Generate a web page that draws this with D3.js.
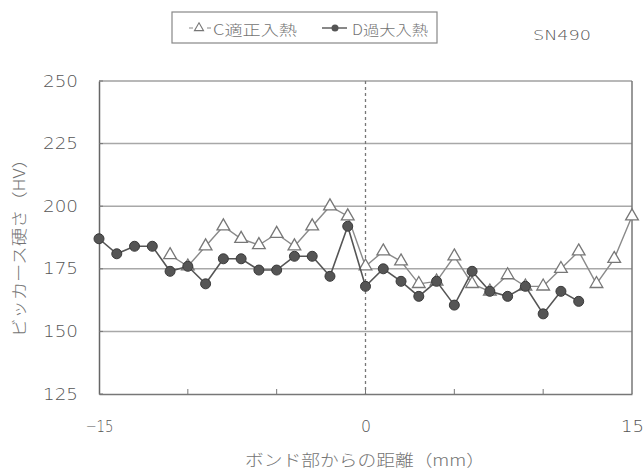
<!DOCTYPE html>
<html>
<head>
<meta charset="utf-8">
<script src="https://cdn.jsdelivr.net/npm/d3@7"></script>
<style>
  html, body { margin: 0; padding: 0; background: #fff; }
  svg { display: block; }
  text { font-family: "Noto Sans CJK JP", "DejaVu Sans", sans-serif; fill: #737373; font-weight: 300; }
  .num { font-family: "DejaVu Sans", sans-serif; font-weight: 200; fill: #555; }
</style>
</head>
<body>
<svg id="chart" width="643" height="475"></svg>
<script>
// Distance from the bond line (mm)
const distC = [-11,-10,-9,-8,-7,-6,-5,-4,-3,-2,-1,0,1,2,3,4,5,6,7,8,9,10,11,12,13,14,15];
const hvC   = [180.5,176,184,192,187,184.5,189,184,192,200,196,176,182,178,169,170,180,169,166,172.5,168,168,175,182,169,179,196];

const distD = [-15,-14,-13,-12,-11,-10,-9,-8,-7,-6,-5,-4,-3,-2,-1,0,1,2,3,4,5,6,7,8,9,10,11,12];
const hvD   = [187,181,184,184,174,176,169,179,179,174.5,174.5,180,180,172,192,168,175,170,164,170,160.5,174,166,164,168,157,166,162];

const yTicks = [125,150,175,200,225,250];
const xLabelTicks = [-15,0,15];
const xMinorTicks = [-10,-5,0,5,10];

const seriesNames = ["C適正入熱", "D過大入熱"];
const yTitle = "ビッカース硬さ（HV）";
const xTitle = "ボンド部からの距離（mm）";
const noteText = "SN490";

const svg = d3.select("#chart");
const x = d3.scaleLinear().domain([-15, 15]).range([99, 632]);
const y = d3.scaleLinear().domain([125, 250]).range([394, 81]);

// horizontal gridlines
svg.append("g").selectAll("line").data(yTicks.filter(v => v > 125 && v < 250)).join("line")
  .attr("x1", x(-15)).attr("x2", x(15))
  .attr("y1", d => y(d)).attr("y2", d => y(d))
  .attr("stroke", "#a8a8a8").attr("stroke-width", 1.5);

// plot frame
svg.append("line").attr("x1", x(-15)).attr("x2", x(15)).attr("y1", y(250)).attr("y2", y(250))
  .attr("stroke", "#a0a0a0").attr("stroke-width", 1.5);
svg.append("line").attr("x1", x(15)).attr("x2", x(15)).attr("y1", y(250)).attr("y2", y(125))
  .attr("stroke", "#777").attr("stroke-width", 1.5);

// y axis
const yAxis = d3.axisLeft(y).tickValues(yTicks).tickSize(0).tickPadding(21);
const gy = svg.append("g").attr("transform", `translate(${x(-15)},0)`).call(yAxis);
gy.attr("font-family", null);
gy.select(".domain").attr("stroke", "#666").attr("stroke-width", 1.5);
gy.selectAll("text").attr("class", "num").attr("fill", null)
  .style("font-size", "16px")
  .attr("textLength", 35).attr("lengthAdjust", "spacingAndGlyphs");
// small inward ticks on y axis
svg.append("g").selectAll("line").data(yTicks).join("line")
  .attr("x1", x(-15)).attr("x2", x(-15) + 4)
  .attr("y1", d => y(d)).attr("y2", d => y(d))
  .attr("stroke", "#777").attr("stroke-width", 1);

// x axis
const xAxis = d3.axisBottom(x).tickValues(xLabelTicks).tickSize(0).tickPadding(27)
  .tickFormat(d => d < 0 ? "\u2212" + Math.abs(d) : d);
const gx = svg.append("g").attr("transform", `translate(0,${y(125)})`).call(xAxis);
gx.attr("font-family", null);
gx.select(".domain").attr("stroke", "#777").attr("stroke-width", 1.5);
gx.selectAll("text").attr("class", "num").attr("fill", null)
  .style("font-size", "16px")
  .attr("textLength", d => d < 0 ? 28 : (d === 0 ? 10 : 23))
  .attr("lengthAdjust", "spacingAndGlyphs");
// minor upward ticks
svg.append("g").selectAll("line").data(xMinorTicks).join("line")
  .attr("x1", d => x(d)).attr("x2", d => x(d))
  .attr("y1", y(125)).attr("y2", y(125) - 5)
  .attr("stroke", "#777").attr("stroke-width", 1);

// dashed bond line at 0 mm
svg.append("line").attr("x1", x(0)).attr("x2", x(0)).attr("y1", y(250)).attr("y2", y(125))
  .attr("stroke", "#777").attr("stroke-width", 1.3).attr("stroke-dasharray", "3,3");

const line = d3.line().x(d => x(d[0])).y(d => y(d[1]));
const dataC = distC.map((d, i) => [d, hvC[i]]);
const dataD = distD.map((d, i) => [d, hvD[i]]);

const triPath = d3.symbol().type(d3.symbolTriangle).size(70)();

// series C (open triangles), drawn underneath
svg.append("path").datum(dataC).attr("d", line)
  .attr("fill", "none").attr("stroke", "#8a8a8a").attr("stroke-width", 1.4);
svg.append("g").selectAll("path").data(dataC).join("path")
  .attr("d", triPath)
  .attr("transform", d => `translate(${x(d[0])},${y(d[1])})`)
  .attr("fill", "#fff").attr("stroke", "#777").attr("stroke-width", 1.3);

// series D (filled circles), on top
svg.append("path").datum(dataD).attr("d", line)
  .attr("fill", "none").attr("stroke", "#555").attr("stroke-width", 1.6);
svg.append("g").selectAll("circle").data(dataD).join("circle")
  .attr("cx", d => x(d[0])).attr("cy", d => y(d[1])).attr("r", 5)
  .attr("fill", "#555").attr("stroke", "#3a3a3a").attr("stroke-width", 1);

// legend
const lg = svg.append("g");
lg.append("rect").attr("x", 172).attr("y", 12).attr("width", 265).attr("height", 31)
  .attr("fill", "#fff").attr("stroke", "#888").attr("stroke-width", 1.2);
lg.append("line").attr("x1", 189).attr("x2", 211).attr("y1", 28).attr("y2", 28)
  .attr("stroke", "#8a8a8a").attr("stroke-width", 1.2).attr("stroke-dasharray", "4,14");
lg.append("path").attr("d", d3.symbol().type(d3.symbolTriangle).size(36)())
  .attr("transform", "translate(199,28)").attr("fill", "#fff").attr("stroke", "#777").attr("stroke-width", 1.1);
lg.append("text").attr("x", 213).attr("y", 35).style("font-size", "14px")
  .attr("textLength", 84).attr("lengthAdjust", "spacingAndGlyphs").text(seriesNames[0]);
lg.append("line").attr("x1", 322).attr("x2", 347).attr("y1", 28).attr("y2", 28)
  .attr("stroke", "#555").attr("stroke-width", 1.4);
lg.append("circle").attr("cx", 335).attr("cy", 28).attr("r", 3.5).attr("fill", "#555");
lg.append("text").attr("x", 352).attr("y", 35).style("font-size", "14px")
  .attr("textLength", 76).attr("lengthAdjust", "spacingAndGlyphs").text(seriesNames[1]);

svg.append("text").attr("class", "num").attr("x", 533).attr("y", 40)
  .style("font-size", "14px")
  .attr("textLength", 58).attr("lengthAdjust", "spacingAndGlyphs").text(noteText);

// axis titles
svg.append("text").attr("x", 245).attr("y", 466)
  .style("font-size", "16px").attr("textLength", 240).attr("lengthAdjust", "spacingAndGlyphs").text(xTitle);
svg.append("text").attr("transform", "translate(25,337) rotate(-90)")
  .style("font-size", "16px").attr("textLength", 187).attr("lengthAdjust", "spacingAndGlyphs").text(yTitle);
</script>
</body>
</html>
